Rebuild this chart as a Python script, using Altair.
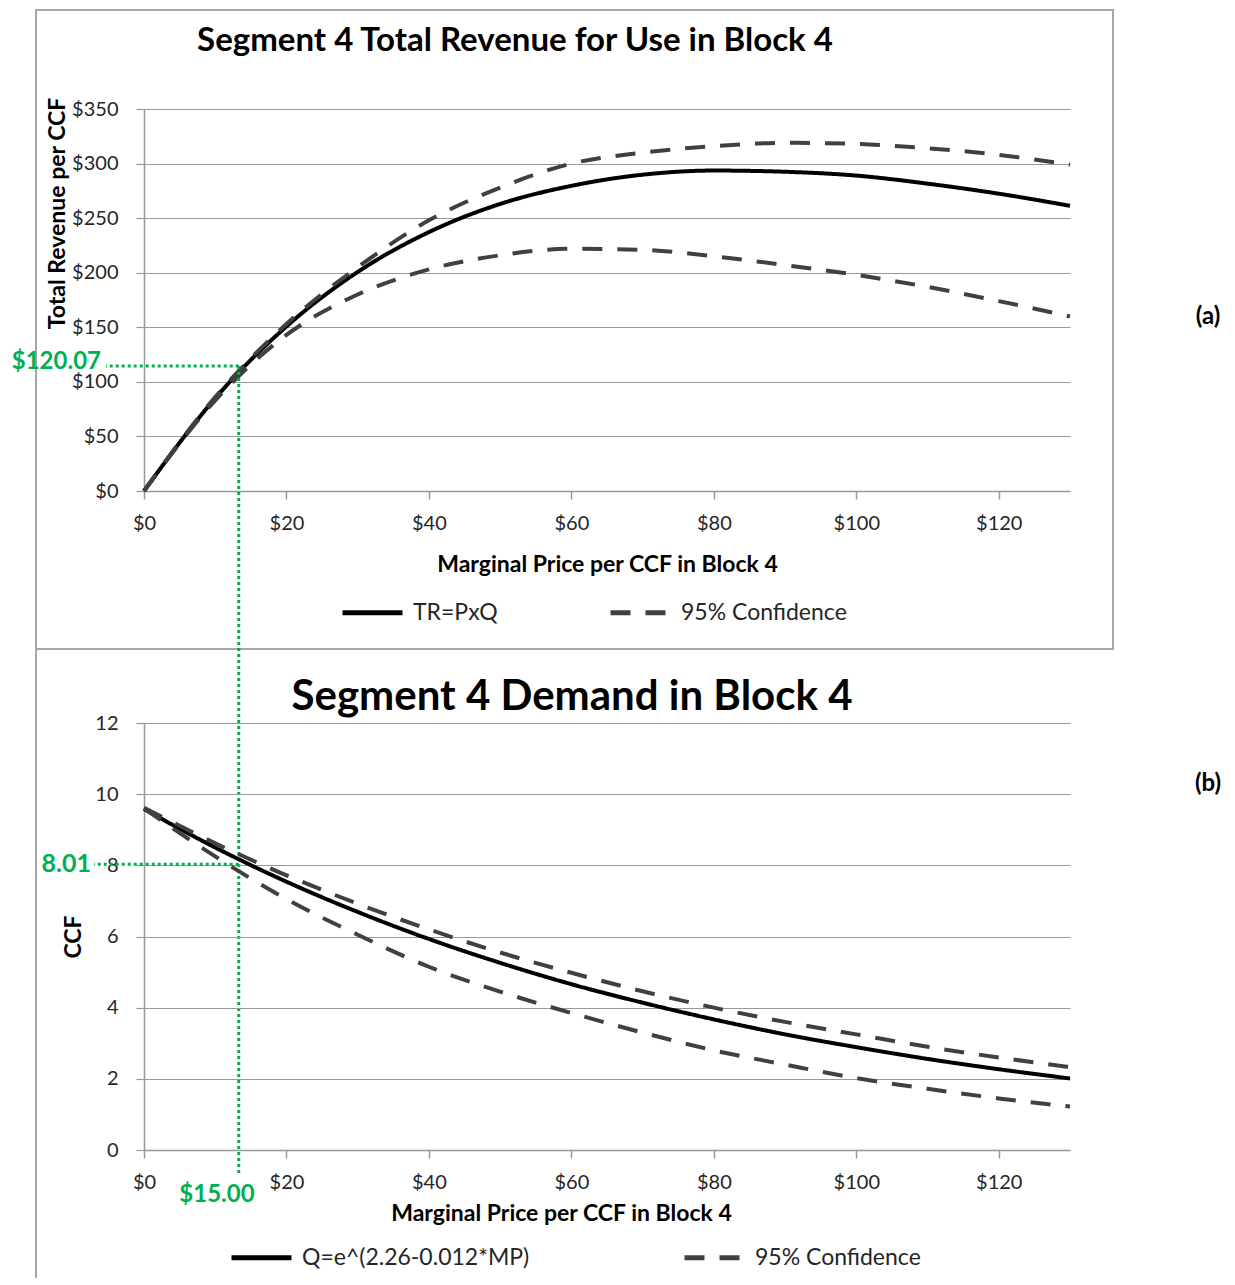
import altair as alt
import pandas as pd

# ---------------- data ----------------
price = [0, 10, 20, 30, 40, 50, 60, 70, 80, 90, 100, 110, 120, 130]

# (a) total revenue per CCF
tr_mid = [0, 85.0, 150.8, 200.7, 237.2, 263.0, 279.6, 289.8, 293.6, 292.5, 289.0, 281.6, 272.4, 261.3]
tr_upper = [0, 86, 153, 205, 248, 278, 300, 310, 316, 319, 318, 314, 308, 299]
tr_lower = [0, 83, 143, 180, 203, 216, 222, 221, 215, 207, 198, 187, 174, 160]

# (b) demand, CCF
q_mid = [9.58, 8.50, 7.54, 6.69, 5.93, 5.26, 4.66, 4.14, 3.67, 3.25, 2.89, 2.56, 2.27, 2.01]
q_upper = [9.62, 8.62, 7.72, 6.92, 6.20, 5.55, 4.98, 4.46, 4.00, 3.60, 3.25, 2.90, 2.60, 2.33]
q_lower = [9.60, 8.25, 7.05, 6.05, 5.15, 4.45, 3.85, 3.30, 2.80, 2.40, 2.02, 1.72, 1.45, 1.22]

top_solid_label = "TR=PxQ"
bot_solid_label = "Q=e^(2.26-0.012*MP)"
conf_label = "95% Confidence"

# green guide lines
ann_price = [13.3]
ann_tr = [114.5]
ann_q = [8.03]
ann_tr_label = "$120.07"
ann_q_label = "8.01"
ann_price_label = "$15.00"

top_title = "Segment 4 Total Revenue for Use in Block 4"
bot_title = "Segment 4 Demand in Block 4"
x_title = "Marginal Price per CCF in Block 4"
top_y_title = "Total Revenue per CCF"
bot_y_title = "CCF"
x_ticks = [0, 20, 40, 60, 80, 100, 120]
top_y_ticks = [0, 50, 100, 150, 200, 250, 300, 350]
bot_y_ticks = [0, 2, 4, 6, 8, 10, 12]

# ---------------- layout ----------------
FONT = "Lato"
W = 926
TOP_H = 382
BOT_H = 427
GAP = 232
GRID = "#999999"
LBL = "#262626"
GREEN = "#00B050"
BORDER = "#a6a6a6"


def long_df(mid, up, lo, solid):
    rows = []
    for p, v in zip(price, mid):
        rows.append({"price": p, "value": v, "series": solid, "band": "mid"})
    for p, v in zip(price, up):
        rows.append({"price": p, "value": v, "series": conf_label, "band": "upper"})
    for p, v in zip(price, lo):
        rows.append({"price": p, "value": v, "series": conf_label, "band": "lower"})
    return pd.DataFrame(rows)


one = pd.DataFrame({"k": [0]})


def x_axis(title_x, title_y):
    return alt.Axis(values=x_ticks, format="$.0f", title=x_title, grid=False,
                    domainColor=GRID, domainWidth=1.5, tickColor=GRID, tickWidth=1.5,
                    tickSize=8, labelPadding=14, labelFont=FONT, labelFontSize=20,
                    labelColor=LBL, labelFlush=False, titleFont=FONT, titleFontSize=23,
                    titleFontWeight="bold", titleColor="#000000",
                    titleX=title_x, titleY=title_y, titleBaseline="middle")


def y_axis(title, values, fmt, title_x, title_y):
    return alt.Axis(values=values, format=fmt, title=title, grid=True,
                    gridColor=GRID, gridWidth=1.2, domainColor=GRID, domainWidth=1.5,
                    tickColor=GRID, tickWidth=1.2, tickSize=8, labelPadding=18,
                    labelFont=FONT, labelFontSize=20, labelColor=LBL, labelFlush=False,
                    titleFont=FONT, titleFontSize=23, titleFontWeight="bold",
                    titleColor="#000000", titleX=title_x, titleY=title_y,
                    titleBaseline="middle", titleAlign="center")


def legend(lx, ly, col_pad):
    return alt.Legend(orient="none", legendX=lx, legendY=ly, direction="horizontal",
                      title=None, symbolType="stroke", symbolSize=3600,
                      symbolStrokeWidth=5, labelFont=FONT, labelFontSize=23,
                      labelColor=LBL, labelOffset=8, labelLimit=500,
                      columnPadding=col_pad)


def panel(df, solid, y_dom, y_ax, leg):
    x = alt.X("price:Q", scale=alt.Scale(domain=[0, 130], nice=False), axis=y_ax[0])
    y = alt.Y("value:Q", scale=alt.Scale(domain=y_dom, nice=False), axis=y_ax[1])
    color = alt.Color("series:N",
                      scale=alt.Scale(domain=[solid, conf_label], range=["#000000", "#404040"]),
                      legend=leg)
    dash = alt.StrokeDash("series:N",
                          scale=alt.Scale(domain=[solid, conf_label], range=[[1, 0], [20, 15]]),
                          legend=leg)
    base = alt.Chart(df)
    solid_line = base.transform_filter(alt.datum.series == solid).mark_line(
        strokeWidth=4, interpolate="monotone").encode(x=x, y=y, color=color, strokeDash=dash, detail="band:N")
    conf_line = base.transform_filter(alt.datum.series == conf_label).mark_line(
        strokeWidth=4, interpolate="monotone").encode(x=x, y=y, color=color, strokeDash=dash, detail="band:N")
    return solid_line, conf_line


def text(s, px, py, size, weight="normal", color="#000000", align="center"):
    return alt.Chart(one).mark_text(font=FONT, fontSize=size, fontWeight=weight, color=color,
                                    align=align, baseline="middle").encode(
        x=alt.value(px), y=alt.value(py), text=alt.value(s))


# ---------------- top panel (a) ----------------
top_df = long_df(tr_mid, tr_upper, tr_lower, top_solid_label)
t_solid, t_conf = panel(
    top_df, top_solid_label, [0, 350],
    (x_axis(W / 2, 73), y_axis(top_y_title, top_y_ticks, "$.0f", -87, 104)),
    legend(196, 471, 102))

top_ann = pd.DataFrame({"price": ann_price, "value": ann_tr})
t_border = alt.Chart(one).mark_rect(fill="transparent", stroke=BORDER, strokeWidth=2).encode(
    x=alt.value(-108), x2=alt.value(969), y=alt.value(-99), y2=alt.value(540))
t_anchor = alt.Chart(one).mark_rule(color="#ffffff", strokeWidth=1).encode(
    x=alt.value(-134.5), y=alt.value(-90), y2=alt.value(-89))
t_hline = alt.Chart(top_ann).mark_rule(color=GREEN, strokeWidth=3, strokeDash=[3, 3]).encode(
    x="price:Q", x2=alt.value(-38), y="value:Q")
t_vline = alt.Chart(top_ann).mark_rule(color=GREEN, strokeWidth=3, strokeDash=[3, 3]).encode(
    x="price:Q", y="value:Q", y2=alt.value(TOP_H + GAP + BOT_H + 26))

top = alt.layer(
    t_border, t_anchor, t_solid, t_conf, t_hline, t_vline,
    text(top_title, 371, -68, 33, "bold"),
    text(ann_tr_label, -43, 253, 24, "bold", GREEN, "right"),
    text("(a)", 1064, 208, 24, "bold"),
).properties(width=W, height=TOP_H)

# ---------------- bottom panel (b) ----------------
bot_df = long_df(q_mid, q_upper, q_lower, bot_solid_label)
b_solid, b_conf = panel(
    bot_df, bot_solid_label, [0, 12],
    (x_axis(417, 63), y_axis(bot_y_title, bot_y_ticks, "d", -71, BOT_H / 2)),
    legend(85, 502, 144))

bot_ann = pd.DataFrame({"price": ann_price, "value": ann_q})
b_border = alt.Chart(one).mark_rule(color=BORDER, strokeWidth=2).encode(
    x=alt.value(-108), y=alt.value(-74), y2=alt.value(555))
b_hline = alt.Chart(bot_ann).mark_rule(color=GREEN, strokeWidth=3, strokeDash=[3, 3]).encode(
    x="price:Q", x2=alt.value(-50), y="value:Q")

bottom = alt.layer(
    b_border, b_solid, b_conf, b_hline,
    text(bot_title, 428, -26, 42, "bold"),
    text(ann_q_label, -53, 141, 25, "bold", GREEN, "right"),
    text(ann_price_label, 73, 472, 24, "bold", GREEN),
    text("(b)", 1064, 61, 24, "bold"),
).properties(width=W, height=BOT_H)

chart = alt.vconcat(top, bottom, spacing=GAP, bounds="flush").resolve_scale(
    x="independent", y="independent", color="independent", strokeDash="independent"
).properties(
    padding={"left": 0, "top": 0, "right": 5, "bottom": 0}
).configure_view(stroke="transparent")

chart.save("out.html", embed_options={"renderer": "svg", "actions": False})
